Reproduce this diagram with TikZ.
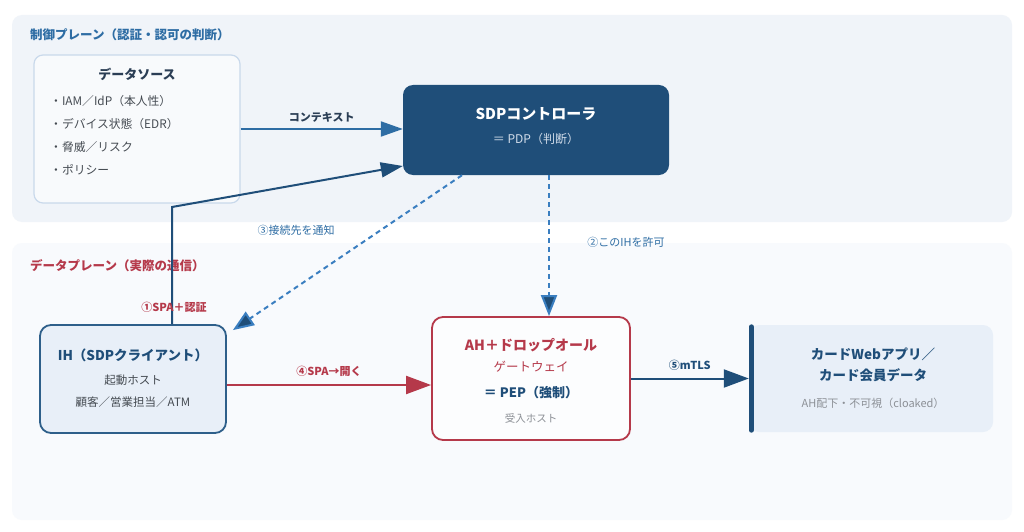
\documentclass[tikz,border=0pt]{standalone}
\usepackage{fontspec}
\setmainfont{Noto Sans CJK JP}
\usepackage{xcolor}
\definecolor{sdpNavy}{HTML}{1F4E79}
\definecolor{sdpBlue}{HTML}{2E6DA4}
\definecolor{sdpDash}{HTML}{3A7EC0}
\definecolor{sdpRed}{HTML}{B5394A}
\definecolor{sdpInk}{HTML}{2B3E55}
\definecolor{sdpText}{HTML}{454B52}
\definecolor{sdpGray}{HTML}{8C9096}
\definecolor{sdpPale}{HTML}{D3DEEB}
\definecolor{ctrlPlane}{HTML}{F0F4F9}
\definecolor{dataPlane}{HTML}{F8FAFD}
\definecolor{srcFill}{HTML}{F8FAFC}
\definecolor{srcBorder}{HTML}{C9D9EB}
\definecolor{hostFill}{HTML}{E8EFF8}
\definecolor{hostBorder}{HTML}{2E5F8A}
\usepackage{tikz}
\usetikzlibrary{arrows.meta,positioning,calc}
\tikzset{
    plane/.style={
        draw=none,
        rounded corners=10pt
    },
    planetitle/.style={
        anchor=west,
        inner sep=0pt,
        font=\fontsize{12.5}{14}\selectfont\bfseries
    },
    srcbox/.style={
        draw=srcBorder,
        fill=srcFill,
        rectangle,
        rounded corners=9pt,
        minimum width=206pt,
        minimum height=148pt,
        line width=1.2pt
    },
    ctrlbox/.style={
        draw=none,
        fill=sdpNavy,
        rectangle,
        rounded corners=10pt,
        minimum width=266pt,
        minimum height=90pt
    },
    hostbox/.style={
        draw=hostBorder,
        fill=hostFill,
        rectangle,
        rounded corners=11pt,
        minimum width=186pt,
        minimum height=108pt,
        line width=1.8pt
    },
    gatebox/.style={
        draw=sdpRed,
        fill=white!60!dataPlane,
        rectangle,
        rounded corners=11pt,
        minimum width=198pt,
        minimum height=123pt,
        line width=1.8pt
    },
    appbox/.style={
        draw=none,
        fill=hostFill,
        rectangle,
        rounded corners=10pt,
        minimum width=244pt,
        minimum height=107pt
    },
    boxtitle/.style={
        inner sep=0pt,
        font=\fontsize{13}{15}\selectfont\bfseries
    },
    boxtext/.style={
        inner sep=0pt,
        color=sdpText,
        font=\fontsize{11.5}{14}\selectfont
    },
    item/.style={
        anchor=west,
        inner sep=0pt,
        color=sdpText,
        font=\fontsize{11.8}{14}\selectfont
    },
    note/.style={
        inner sep=0pt,
        color=sdpGray,
        font=\fontsize{10.5}{13}\selectfont
    },
    arrow/.style={
        -{Triangle[length=23pt,width=17pt]},
        line width=2pt,
        color=sdpNavy
    },
    dasharrow/.style={
        -{Triangle[length=21pt,width=16pt,fill=sdpNavy]},
        line width=2pt,
        dash pattern=on 5pt off 4pt,
        color=sdpDash
    },
    arrowlabel/.style={
        inner sep=0pt,
        font=\fontsize{11}{13}\selectfont\bfseries
    }
}

\begin{document}
\begin{tikzpicture}[x=1pt,y=-1pt]
    \useasboundingbox[fill=white] (0,0) rectangle (1024,532);

    % Planes
    \fill[plane, ctrlPlane] (12,15) rectangle (1012,222);
    \fill[plane, dataPlane] (12,243) rectangle (1012,520);
    \node[planetitle, sdpBlue] (ctrltitle) at (30,35) {制御プレーン（認証・認可の判断）};
    \node[planetitle, sdpRed] (datatitle) at (30,266) {データプレーン（実際の通信）};

    % Data sources
    \node[srcbox] (src) at (137,129) {};
    \node[boxtitle, sdpInk] (srctitle) at (137,74) {データソース};
    \node[item] (iam) at (50,101) {・IAM／IdP（本人性）};
    \node[item] (edr) at (50,124) {・デバイス状態（EDR）};
    \node[item] (risk) at (50,147) {・脅威／リスク};
    \node[item] (policy) at (50,170) {・ポリシー};

    % SDP controller
    \node[ctrlbox] (ctrl) at (536,130) {};
    \node[boxtitle, white, font=\fontsize{15}{17}\selectfont\bfseries] (ctrltext) at (536,114) {SDPコントローラ};
    \node[boxtext, sdpPale, font=\fontsize{12}{14}\selectfont] (pdp) at (536,139) {＝ PDP（判断）};

    % Initiating host
    \node[hostbox] (ih) at (133,379) {};
    \node[boxtitle, sdpNavy, font=\fontsize{13.5}{16}\selectfont\bfseries] (ihtitle) at (133,355) {IH（SDPクライアント）};
    \node[boxtext] (ihrole) at (133,380) {起動ホスト};
    \node[boxtext] (ihusers) at (133,402) {顧客／営業担当／ATM};

    % Accepting host gateway
    \node[gatebox] (ah) at (531,378.5) {};
    \node[boxtitle, sdpRed, font=\fontsize{14}{16}\selectfont\bfseries] (ahtitle) at (531,345) {AH＋ドロップオール};
    \node[boxtext, sdpRed, font=\fontsize{12.5}{15}\selectfont] (ahgw) at (531,367) {ゲートウェイ};
    \node[boxtitle, sdpNavy] (pep) at (531,393) {＝ PEP（強制）};
    \node[note] (ahrole) at (531,418) {受入ホスト};

    % Protected application
    \node[appbox] (card) at (871,378.5) {};
    \draw[line width=5pt, sdpNavy, line cap=round] ([xshift=2.5pt,yshift=-2pt]card.north west) -- ([xshift=2.5pt,yshift=2pt]card.south west);
    \node[boxtitle, sdpNavy, font=\fontsize{13.5}{16}\selectfont\bfseries] (cardapp) at (873,354) {カードWebアプリ／};
    \node[boxtitle, sdpNavy, font=\fontsize{13.5}{16}\selectfont\bfseries] (carddata) at (873,375) {カード会員データ};
    \node[note, font=\fontsize{11}{13}\selectfont] (cloaked) at (873,403) {AH配下・不可視（cloaked）};

    % Arrows
    \draw[arrow, sdpBlue, -{Triangle[length=22pt,width=15pt]}] (src.east |- 0,129) -- node[arrowlabel, sdpInk, above=6pt] {コンテキスト} (ctrl.west |- 0,129);
    \coordinate (bend) at (172,207);
    \draw[arrow, -{Triangle[length=22pt,width=15pt]}] ([xshift=39pt]ih.north) -- (bend) -- ([yshift=-36pt]ctrl.west);
    \node[arrowlabel, sdpRed] (spa) at (174,307) {①SPA＋認証};
    \draw[dasharrow] ([xshift=-74pt]ctrl.south) -- ([xshift=6pt,yshift=-6pt]ih.north east);
    \node[arrowlabel, sdpBlue, font=\fontsize{11}{13}\selectfont] (notify) at (296,230) {③接続先を通知};
    \draw[dasharrow] ([xshift=13pt]ctrl.south) -- ([xshift=13pt]ctrl.south |- ah.north);
    \node[arrowlabel, sdpBlue, font=\fontsize{11}{13}\selectfont] (allow) at (626,242) {②このIHを許可};
    \draw[arrow, sdpRed, -{Triangle[length=25pt,width=18pt]}] ([yshift=-6pt]ih.east) -- node[arrowlabel, sdpRed, above=7pt] {④SPA→開く} ([yshift=-6pt]ih.east -| ah.west);
    \draw[arrow, -{Triangle[length=25pt,width=18pt]}] (ah.east) -- node[arrowlabel, sdpNavy, above=7pt] {⑤mTLS} (ah.east -| card.west);
\end{tikzpicture}
\end{document}
